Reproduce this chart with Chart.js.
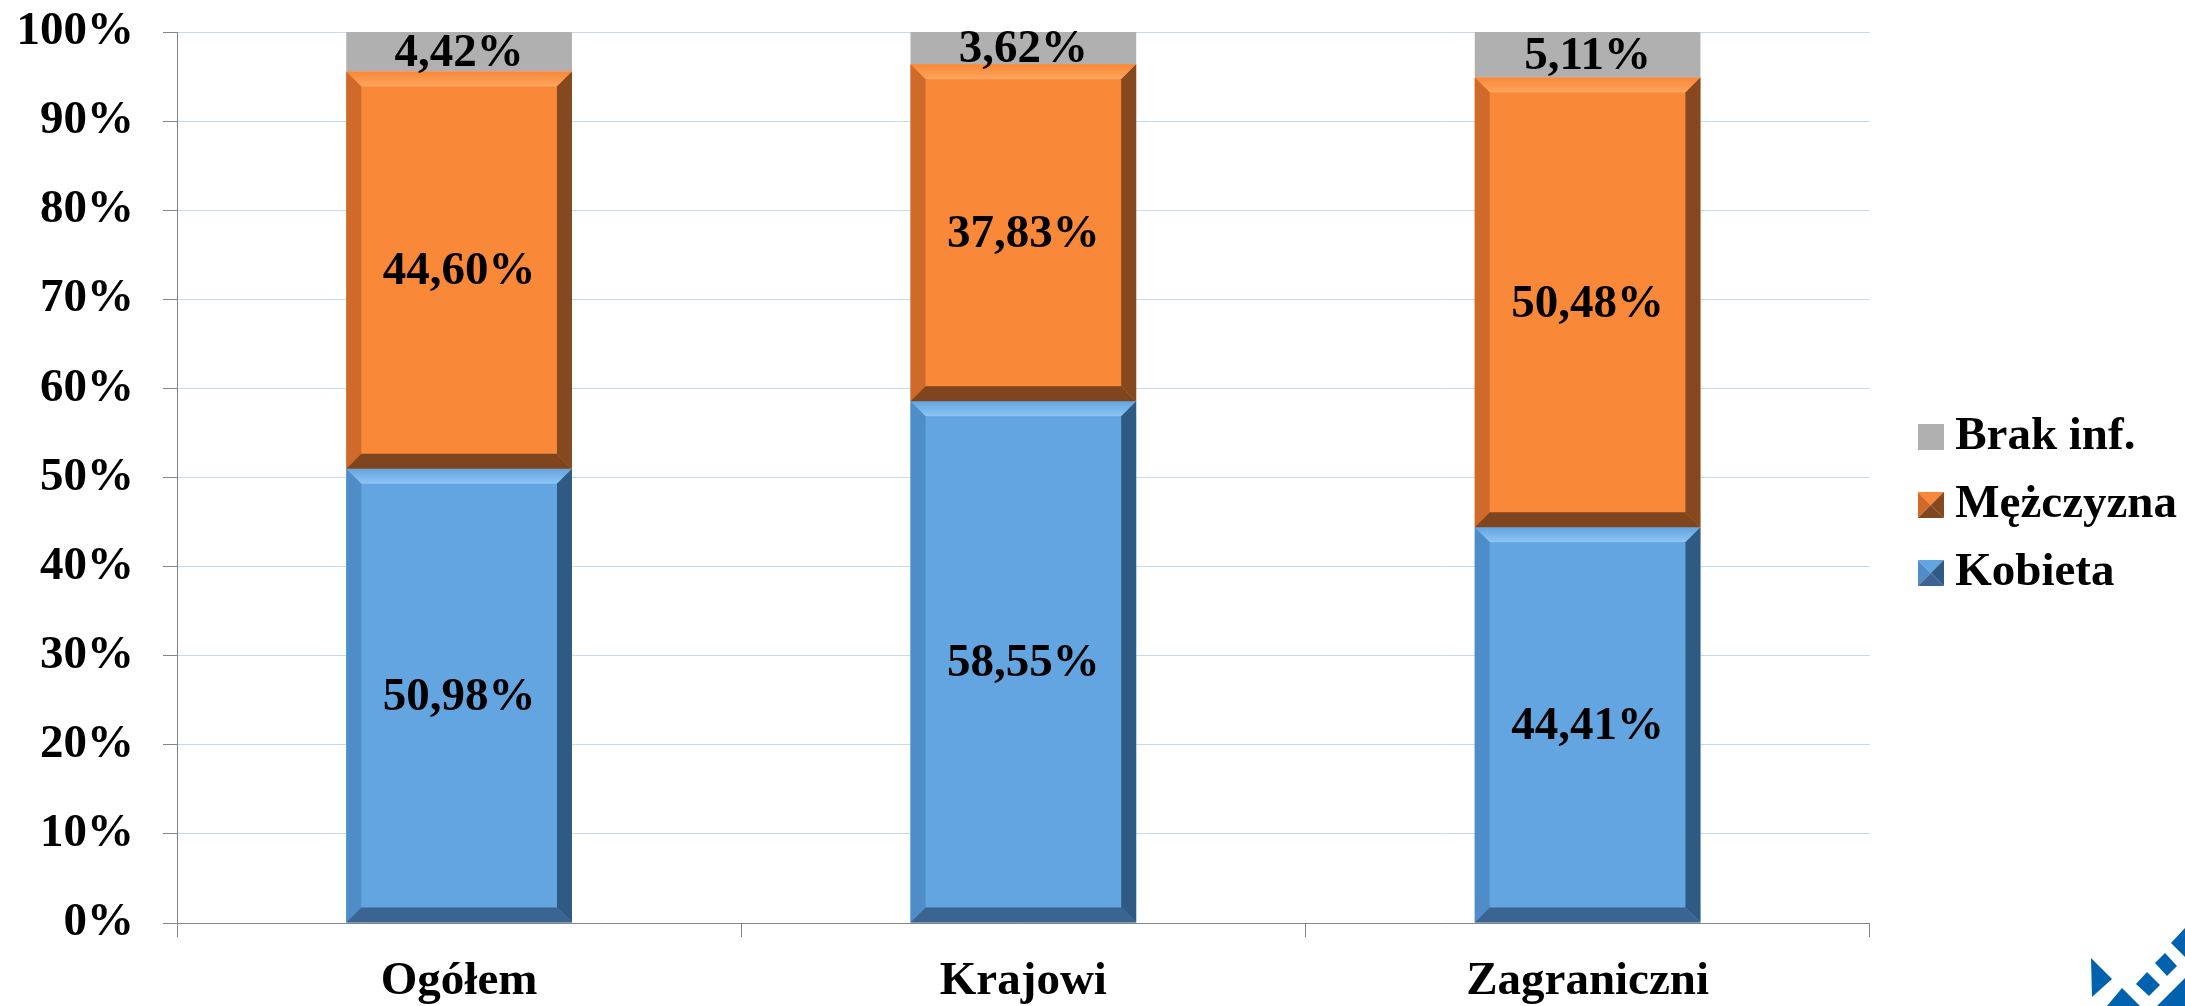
<!DOCTYPE html>
<html>
<head>
<meta charset="utf-8">
<script src="https://cdn.jsdelivr.net/npm/chart.js@4.4.1/dist/chart.umd.min.js"></script>
<style>
    html, body { margin: 0; padding: 0; background: #ffffff; }
    #chart { display: block; }
</style>
</head>
<body>
<canvas id="chart" width="2185" height="1006"></canvas>
<script>
const categories = ["Ogółem", "Krajowi", "Zagraniczni"];
const kobieta = [50.98, 58.55, 44.41];
const mezczyzna = [44.60, 37.83, 50.48];
const brakInf = [4.42, 3.62, 5.11];
const yTickValues = [0, 10, 20, 30, 40, 50, 60, 70, 80, 90, 100];

const FONT = "'Liberation Serif', 'Times New Roman', serif";
const FONT_SIZE = 47;
const AXIS_GRAY = "#868686";

// bevel colours per dataset: face, top, left, right, bottom
const bevels = [
    { face: "#63A5E0", top: "#8CC6F3", left: "#4F8DC8", right: "#2F5A84", bottom: "#3B6590" },
    { face: "#F98838", top: "#FCA55E", left: "#D06A2A", right: "#86481E", bottom: "#7E451F" },
];

function makeMarker(colors) {
    const c = document.createElement("canvas");
    c.width = 26; c.height = 26;
    const g = c.getContext("2d");
    if (!colors.top) {
        g.fillStyle = colors.face;
        g.fillRect(0, 0, 26, 26);
        return c;
    }
    const tri = (pts, col) => {
        g.fillStyle = col;
        g.beginPath();
        g.moveTo(pts[0][0], pts[0][1]);
        pts.slice(1).forEach(p => g.lineTo(p[0], p[1]));
        g.closePath();
        g.fill();
    };
    tri([[0, 0], [26, 0], [13, 13]], colors.face);
    tri([[0, 0], [13, 13], [0, 26]], colors.left);
    tri([[26, 0], [26, 26], [13, 13]], colors.right);
    tri([[0, 26], [13, 13], [26, 26]], colors.bottom);
    return c;
}
const markers = [makeMarker(bevels[0]), makeMarker(bevels[1]), makeMarker({ face: "#B0B0B0" })];

const bevelPlugin = {
    id: "bevel",
    afterDatasetsDraw(chart) {
        const ctx = chart.ctx;
        [0, 1].forEach(di => {
            const meta = chart.getDatasetMeta(di);
            const col = bevels[di];
            meta.data.forEach(bar => {
                const { x, y, base, width } = bar.getProps(["x", "y", "base", "width"], true);
                const l = x - width / 2, r = x + width / 2;
                const t = Math.min(y, base), bt = Math.max(y, base);
                const b = Math.min(15, (bt - t) / 2);
                const poly = (pts, fill) => {
                    ctx.fillStyle = fill;
                    ctx.beginPath();
                    ctx.moveTo(pts[0][0], pts[0][1]);
                    pts.slice(1).forEach(p => ctx.lineTo(p[0], p[1]));
                    ctx.closePath();
                    ctx.fill();
                };
                ctx.save();
                const topGrad = ctx.createLinearGradient(0, t, 0, t + b);
                topGrad.addColorStop(0, col.face);
                topGrad.addColorStop(1, col.top);
                poly([[l, t], [r, t], [r - b, t + b], [l + b, t + b]], topGrad);
                poly([[l, t], [l + b, t + b], [l + b, bt - b], [l, bt]], col.left);
                poly([[r, t], [r, bt], [r - b, bt - b], [r - b, t + b]], col.right);
                poly([[l, bt], [r, bt], [r - b, bt - b], [l + b, bt - b]], col.bottom);
                ctx.restore();
            });
        });
    },
};

const valueLabels = {
    id: "valueLabels",
    afterDatasetsDraw(chart) {
        const ctx = chart.ctx;
        ctx.save();
        ctx.font = "bold " + FONT_SIZE + "px " + FONT;
        ctx.fillStyle = "#000000";
        ctx.textAlign = "center";
        ctx.textBaseline = "middle";
        chart.data.datasets.forEach((ds, di) => {
            chart.getDatasetMeta(di).data.forEach((bar, i) => {
                const { x, y, base } = bar.getProps(["x", "y", "base"], true);
                const txt = ds.data[i].toFixed(2).replace(".", ",") + "%";
                ctx.fillText(txt, x, (y + base) / 2 + 2);
            });
        });
        ctx.restore();
    },
};

// push legend items right, away from the plot
const legendShift = {
    id: "legendShift",
    afterLayout(chart) {
        if (chart.legend) {
            chart.legend.left += 39;
            chart.legend.right += 39;
        }
    },
};

const logo = {
    id: "logo",
    afterDraw(chart) {
        const ctx = chart.ctx;
        const shapes = [
            [[2091, 958], [2112, 979], [2092, 997]],
            [[2107, 1006], [2122, 988], [2140, 1006]],
            [[2136, 984], [2147, 972], [2160, 985], [2149, 996]],
            [[2155, 963], [2165, 953], [2177, 966], [2167, 976]],
            [[2171, 943], [2185, 928], [2185, 957]],
            [[2157, 1006], [2185, 978], [2185, 1006]],
        ];
        ctx.save();
        ctx.fillStyle = "#0061AF";
        shapes.forEach(s => {
            ctx.beginPath();
            ctx.moveTo(s[0][0], s[0][1]);
            s.slice(1).forEach(p => ctx.lineTo(p[0], p[1]));
            ctx.closePath();
            ctx.fill();
        });
        ctx.restore();
    },
};

new Chart(document.getElementById("chart"), {
    type: "bar",
    data: {
        labels: categories,
        datasets: [
            { label: "Kobieta", data: kobieta, backgroundColor: bevels[0].face },
            { label: "Mężczyzna", data: mezczyzna, backgroundColor: bevels[1].face },
            { label: "Brak inf.", data: brakInf, backgroundColor: "#B0B0B0" },
        ],
    },
    options: {
        responsive: false,
        animation: false,
        devicePixelRatio: 1,
        categoryPercentage: 1.0,
        barPercentage: 0.4,
        layout: { padding: { top: 4, right: 37, bottom: 0, left: 0 } },
        plugins: {
            tooltip: { enabled: false },
            legend: {
                position: "right",
                reverse: true,
                labels: {
                    usePointStyle: true,
                    pointStyleWidth: 2,
                    padding: 21,
                    color: "#000000",
                    font: { family: FONT, size: FONT_SIZE, weight: "bold" },
                    generateLabels(chart) {
                        const items = Chart.defaults.plugins.legend.labels.generateLabels(chart);
                        items.forEach(it => { it.pointStyle = markers[it.datasetIndex]; });
                        return items;
                    },
                },
            },
        },
        scales: {
            x: {
                stacked: true,
                afterFit(scale) { scale.height = 83; },
                grid: {
                    display: true,
                    drawOnChartArea: false,
                    offset: true,
                    tickLength: 14,
                    tickColor: AXIS_GRAY,
                },
                border: { color: AXIS_GRAY, width: 1 },
                ticks: {
                    padding: 17,
                    color: "#000000",
                    font: { family: FONT, size: FONT_SIZE, weight: "bold" },
                },
            },
            y: {
                stacked: true,
                min: 0,
                max: 100,
                afterFit(scale) {
                    scale.width = 177;
                    scale.paddingTop = 32;
                    scale.paddingBottom = 0;
                },
                afterBuildTicks(scale) { scale.ticks = yTickValues.map(v => ({ value: v })); },
                grid: {
                    color: "#C6DAF0",
                    tickLength: 14,
                    tickColor: AXIS_GRAY,
                },
                border: { color: AXIS_GRAY, width: 1 },
                ticks: {
                    padding: 29,
                    color: "#000000",
                    font: { family: FONT, size: FONT_SIZE, weight: "bold" },
                    callback: v => v + "%",
                },
            },
        },
    },
    plugins: [bevelPlugin, valueLabels, legendShift, logo],
});
</script>
</body>
</html>
